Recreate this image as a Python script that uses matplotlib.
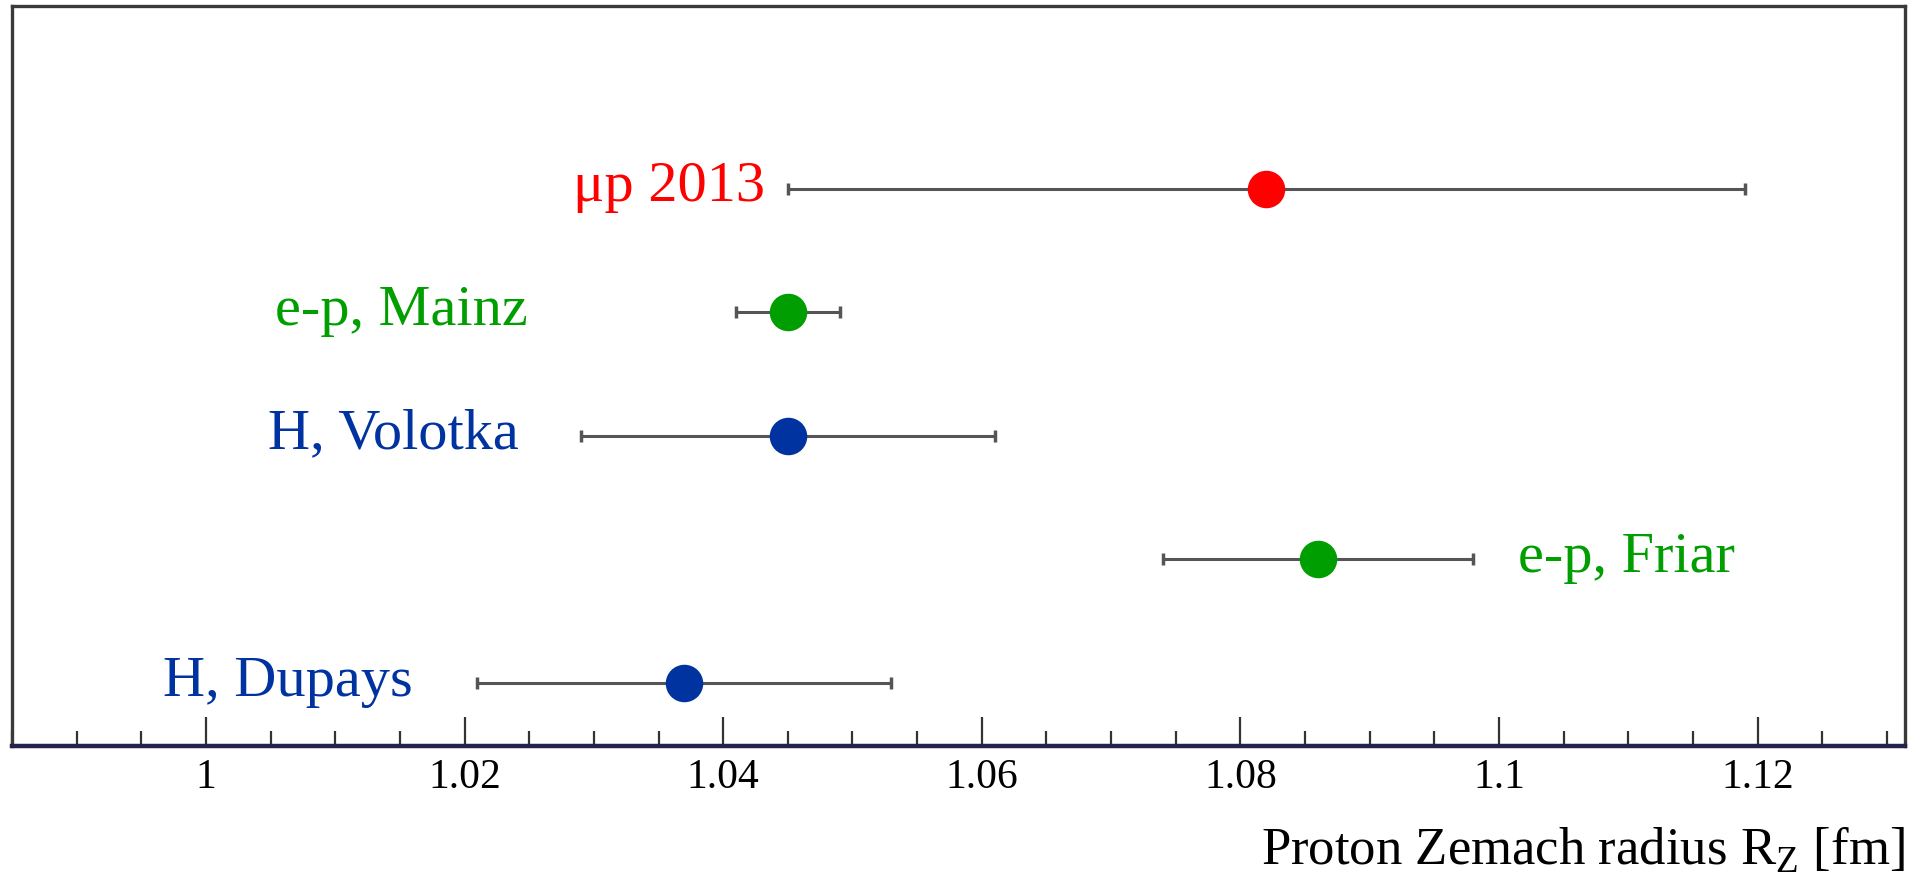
# Proton Zemach radius: comparison of determinations (points with horizontal error bars).

import matplotlib
matplotlib.use('Agg')
import matplotlib.pyplot as plt
from matplotlib.ticker import MultipleLocator, FuncFormatter

# =========================
# DATA
# =========================
labels = ['\u03bcp 2013', 'e-p, Mainz', 'H, Volotka', 'e-p, Friar', 'H, Dupays']
radius = [1.082, 1.045, 1.045, 1.086, 1.037]
radius_err = [0.037, 0.004, 0.016, 0.012, 0.016]
rows = [5, 4, 3, 2, 1]

# =========================
# STYLE
# =========================
RED = '#ff0000'
GREEN = '#009e00'
BLUE = '#0033a0'
point_colors = [RED, GREEN, BLUE, GREEN, BLUE]
ERR_COLOR = '#555555'
FRAME_COLOR = '#3a3a3a'
AXIS_COLOR = '#22224a'

# where each label sits (x in fm) and which side of it
label_x = [1.0432, 1.0249, 1.0242, 1.1015, 1.0160]
label_ha = ['right', 'right', 'right', 'left', 'right']

plt.rcParams['font.family'] = ['Liberation Serif', 'DejaVu Serif']
plt.rcParams['mathtext.fontset'] = 'custom'
plt.rcParams['mathtext.rm'] = 'Liberation Serif'

fig = plt.figure(figsize=(19.27, 8.87), dpi=100)
ax = fig.add_axes([0.00623, 0.1578, 0.98235, 0.8343])

for x, xe, y, c in zip(radius, radius_err, rows, point_colors):
    ax.errorbar(
        x, y, xerr=xe,
        fmt='o',
        color=c,
        markersize=26,
        ecolor=ERR_COLOR,
        elinewidth=2.2,
        capsize=4,
        capthick=2.5,
        zorder=3
    )

for txt, lx, ha, y, c in zip(labels, label_x, label_ha, rows, point_colors):
    ax.text(lx, y + 0.02, txt, ha=ha, va='center', fontsize=42, color=c)

ax.set_xlim(0.985, 1.1314)
ax.set_ylim(0.49, 6.48)

# x axis ticks
ax.xaxis.set_major_locator(MultipleLocator(0.02))
ax.xaxis.set_minor_locator(MultipleLocator(0.005))
ax.xaxis.set_major_formatter(FuncFormatter(lambda v, p: f'{v:g}'))
ax.tick_params(axis='x', which='major', direction='in', length=21, width=1.6,
               color='#333333', labelsize=30, pad=8)
ax.tick_params(axis='x', which='minor', direction='in', length=11, width=1.6,
               color='#333333')
ax.set_yticks([])

for side in ['left', 'top', 'right']:
    ax.spines[side].set_color(FRAME_COLOR)
    ax.spines[side].set_linewidth(2.4)
ax.spines['bottom'].set_color(AXIS_COLOR)
ax.spines['bottom'].set_linewidth(3.2)

ax.set_xlabel('Proton Zemach radius R$_{\\mathregular{Z}}$ [fm]',
              fontsize=38, loc='right', labelpad=20)

plt.savefig('out.png', dpi=100)
